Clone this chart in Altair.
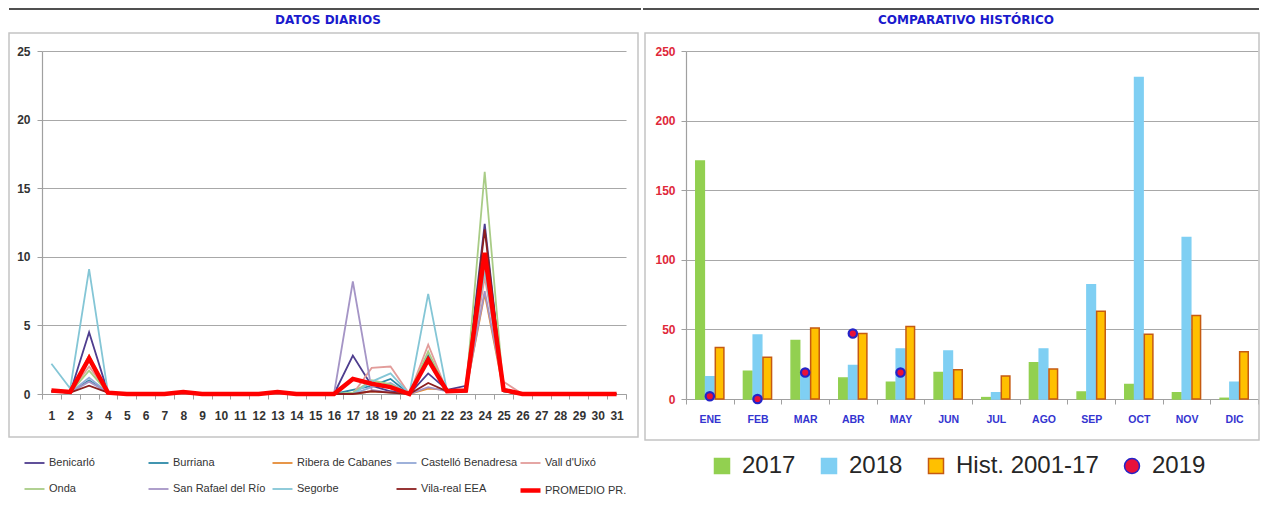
import altair as alt
import pandas as pd

# ---------------- data: left panel (daily) ----------------
days = list(range(1, 32))
stations = ["Benicarló", "Burriana", "Ribera de Cabanes", "Castelló Benadresa",
            "Vall d'Uixó", "Onda", "San Rafael del Río", "Segorbe", "Vila-real EEA"]
promedio_name = "PROMEDIO PR."

benicarlo = [0.2,0.1,4.5,0.1,0,0,0,0.1,0,0,0,0,0.1,0,0,0,2.8,0.6,0.2,0,1.5,0.3,0.6,12.4,0.2,0,0,0,0,0,0]
burriana  = [0.2,0.1,1.0,0.1,0,0,0,0.1,0,0,0,0,0.1,0,0,0,0.3,0.6,1.1,0,2.8,0.2,0.2,10.0,0.2,0,0,0,0,0,0]
ribera    = [0.2,0.1,2.8,0.1,0,0,0,0.1,0,0,0,0,0.1,0,0,0,0,0.2,0.1,0,0.4,0.3,0.2,7.3,0.2,0,0,0,0,0,0]
castello  = [0.2,0.1,1.2,0.1,0,0,0,0.1,0,0,0,0,0.1,0,0,0,0,0.5,0.8,0,2.5,0.2,0.2,9.5,0.2,0,0,0,0,0,0]
vall      = [0.2,0.1,2.0,0.1,0,0,0,0.1,0,0,0,0,0.1,0,0,0,0,1.9,2.0,0,3.6,0.2,0.2,8.5,0.9,0,0,0,0,0,0]
onda      = [0.2,0.1,1.7,0.1,0,0,0,0.1,0,0,0,0,0.1,0,0,0,0.1,1.0,0.7,0,3.1,0.2,0.2,16.2,0.2,0,0,0,0,0,0]
sanrafael = [0.2,0.1,0.9,0.1,0,0,0,0.1,0,0,0,0,0.1,0,0,0,8.2,0.3,0.1,0,0.5,0.2,0.2,7.5,0.4,0,0,0,0,0,0]
segorbe   = [2.2,0.4,9.1,0.1,0,0,0,0.1,0,0,0,0,0.1,0,0,0,0,0.9,1.5,0,7.3,0.2,0.2,9.0,0.2,0,0,0,0,0,0]
vilareal  = [0.2,0.1,0.6,0.1,0,0,0,0.1,0,0,0,0,0.1,0,0,0,0,0.2,0.1,0,0.8,0.2,0.2,12.0,0.2,0,0,0,0,0,0]
promedio  = [0.25,0.15,2.6,0.1,0,0,0,0.15,0,0,0,0,0.15,0,0,0,1.1,0.75,0.5,0,2.5,0.2,0.25,10.3,0.3,0,0,0,0,0,0]

station_values = [benicarlo, burriana, ribera, castello, vall, onda, sanrafael, segorbe, vilareal]
line_colors = ["#4E3D8E", "#2C8AA8", "#E58B35", "#93A9D6", "#E29C9A",
               "#A9CC86", "#A595C6", "#84C6D6", "#8C1F1F", "#FF0000"]
line_widths = [1.8] * 9 + [4.5]
y_ticks_left = [0, 5, 10, 15, 20, 25]

# ---------------- data: right panel (monthly) ----------------
months = ["ENE", "FEB", "MAR", "ABR", "MAY", "JUN", "JUL", "AGO", "SEP", "OCT", "NOV", "DIC"]
v2017 = [171, 20, 42, 15, 12, 19, 1, 26, 5, 10.5, 4.5, 0.5]
v2018 = [16, 46, 17, 24, 36, 34.5, 4.5, 36, 82, 231, 116, 12]
vhist = [37, 30, 51, 47, 52, 21, 16.5, 21.5, 63, 46.5, 60, 34]
v2019 = [2, 0, 19, 47, 19]
series = ["2017", "2018", "Hist. 2001-17", "2019"]
series_fill = ["#92D050", "#7FCFF3", "#FFC000", "#E8103A"]
series_stroke = ["#92D050", "#7FCFF3", "#C55A11", "#2424C8"]
series_shape = ["square", "square", "square", "circle"]
y_ticks_right = [0, 50, 100, 150, 200, 250]

# ---------------- tables ----------------
rows = []
for name, vals in zip(stations, station_values):
    for d, v in zip(days, vals):
        rows.append({"day": d, "station": name, "value": v})
df_lines = pd.DataFrame(rows)
df_prom = pd.DataFrame({"day": days, "station": promedio_name, "value": promedio})

brows = []
for s, vals in zip(series[:3], [v2017, v2018, vhist]):
    for m, v in zip(months, vals):
        brows.append({"month": m, "series": s, "value": v})
df_bars = pd.DataFrame(brows)
df_dots = pd.DataFrame({"month": months[:len(v2019)], "series": "2019",
                        "slot": "2018", "value": v2019})

FONT = "Liberation Sans"
all_names = stations + [promedio_name]

# ---------------- left panel ----------------
LW, LH = 584, 343
one = alt.Data(values=[{"k": 1}])

x_left = alt.X("day:O", scale=alt.Scale(type="band", paddingInner=0, paddingOuter=0),
               axis=alt.Axis(title=None, labelAngle=0, tickBand="extent", labelFont=FONT,
                             labelFontSize=12, labelFontWeight="bold", labelColor="#333333",
                             labelPadding=11, tickSize=5))
y_left = alt.Y("value:Q", scale=alt.Scale(domain=[0, 25], nice=False),
               axis=alt.Axis(title=None, values=y_ticks_left, grid=True, labelFont=FONT,
                             labelFontSize=12, labelFontWeight="bold", labelColor="#333333",
                             labelPadding=7, tickSize=5))
leg_left = alt.Legend(title=None, orient="none", legendX=-20, legendY=398, direction="horizontal",
                      columns=5, gridAlign="all", symbolType="stroke",
                      symbolSize=400, columnPadding=-10, rowPadding=7,
                      labelFont=FONT, labelFontSize=11,
                      labelColor="#333333", labelLimit=200, labelOffset=2)
color_left = alt.Color("station:N", scale=alt.Scale(domain=all_names, range=line_colors),
                       legend=leg_left)
sw_left = alt.StrokeWidth("station:N",
                          scale=alt.Scale(type="ordinal", domain=all_names, range=line_widths),
                          legend=leg_left)

left_box = alt.Chart(one).mark_rect(fillOpacity=0, stroke="#C4C4C4", strokeWidth=1.5).encode(
    x=alt.value(-33), x2=alt.value(596), y=alt.value(-18), y2=alt.value(386))
left_top = alt.Chart(one).mark_rule(color="#505050", strokeWidth=2).encode(
    x=alt.value(-33), x2=alt.value(599), y=alt.value(-42))
left_title = alt.Chart(one).mark_text(text="DATOS DIARIOS", font="DejaVu Sans", fontSize=12,
                                      fontWeight="bold", color="#1A1ACD", align="center",
                                      baseline="middle").encode(x=alt.value(286), y=alt.value(-31))
lines = alt.Chart(df_lines).mark_line(interpolate="linear").encode(
    x=x_left, y=y_left, color=color_left, strokeWidth=sw_left)
prom = alt.Chart(df_prom).mark_line(interpolate="linear").encode(
    x=x_left, y=y_left, color=color_left, strokeWidth=sw_left)

left = alt.layer(left_box, left_top, left_title, lines, prom).properties(width=LW, height=LH)

# ---------------- right panel ----------------
RW, RH = 572, 348
x_right = alt.X("month:N", sort=months, scale=alt.Scale(type="band", paddingInner=0, paddingOuter=0),
                axis=alt.Axis(title=None, labelAngle=0, tickBand="extent", labelFont=FONT,
                              labelFontSize=10.5, labelFontWeight="bold", labelColor="#3434D0",
                              labelPadding=10, tickSize=5))
off_scale = alt.Scale(domain=series[:3], paddingInner=0.12, paddingOuter=1)
xoff = alt.XOffset("series:N", sort=series[:3], scale=off_scale)
y_right = alt.Y("value:Q", scale=alt.Scale(domain=[0, 250], nice=False),
                axis=alt.Axis(title=None, values=y_ticks_right, grid=True, labelFont=FONT,
                              labelFontSize=12, labelFontWeight="bold", labelColor="#E0283A",
                              labelPadding=6, tickSize=5))
legend_right = alt.Legend(title=None, orient="none", legendX=24, legendY=403, direction="horizontal",
                          symbolSize=225, symbolStrokeWidth=1.5, labelFont=FONT, labelFontSize=24,
                          labelColor="#262626", columnPadding=21, labelOffset=8, labelLimit=300)
color_right = alt.Color("series:N", scale=alt.Scale(domain=series, range=series_fill), legend=legend_right)
stroke_right = alt.Stroke("series:N", scale=alt.Scale(domain=series, range=series_stroke), legend=legend_right)
shape_right = alt.Shape("series:N", scale=alt.Scale(domain=series, range=series_shape), legend=legend_right)

right_box = alt.Chart(one).mark_rect(fillOpacity=0, stroke="#C4C4C4", strokeWidth=1.5).encode(
    x=alt.value(-41), x2=alt.value(573), y=alt.value(-18), y2=alt.value(389))
right_top = alt.Chart(one).mark_rule(color="#505050", strokeWidth=2).encode(
    x=alt.value(-43), x2=alt.value(573), y=alt.value(-42))
right_title = alt.Chart(one).mark_text(text="COMPARATIVO HISTÓRICO", font="DejaVu Sans", fontSize=12,
                                       fontWeight="bold", color="#1A1ACD", align="center",
                                       baseline="middle").encode(x=alt.value(280), y=alt.value(-31))
bars = alt.Chart(df_bars).mark_bar(strokeWidth=1.5).encode(
    x=x_right, xOffset=xoff, y=y_right, color=color_right, stroke=stroke_right)
dots = alt.Chart(df_dots).mark_point(filled=True, size=70, strokeWidth=2.2, opacity=1).encode(
    x=x_right, xOffset=alt.XOffset("slot:N", scale=off_scale),
    y=y_right, color=color_right, stroke=stroke_right, shape=shape_right)

right = alt.layer(right_box, right_top, right_title, bars, dots).properties(width=RW, height=RH)

chart = alt.hconcat(left, right, spacing=0).resolve_scale(
    color="independent", strokeWidth="independent", stroke="independent", shape="independent",
    x="independent", y="independent", xOffset="independent"
).resolve_legend(
    color="independent", strokeWidth="independent", stroke="independent", shape="independent"
).properties(
    padding={"left": 0, "top": 0, "right": 0, "bottom": 0}
).configure_view(strokeWidth=0).configure_axis(
    domainColor="#A0A0A0", tickColor="#A0A0A0", gridColor="#A8A8A8", gridWidth=1.2, domainWidth=1.2
)

chart.save("out.html", embed_options={"renderer": "svg", "actions": False})
